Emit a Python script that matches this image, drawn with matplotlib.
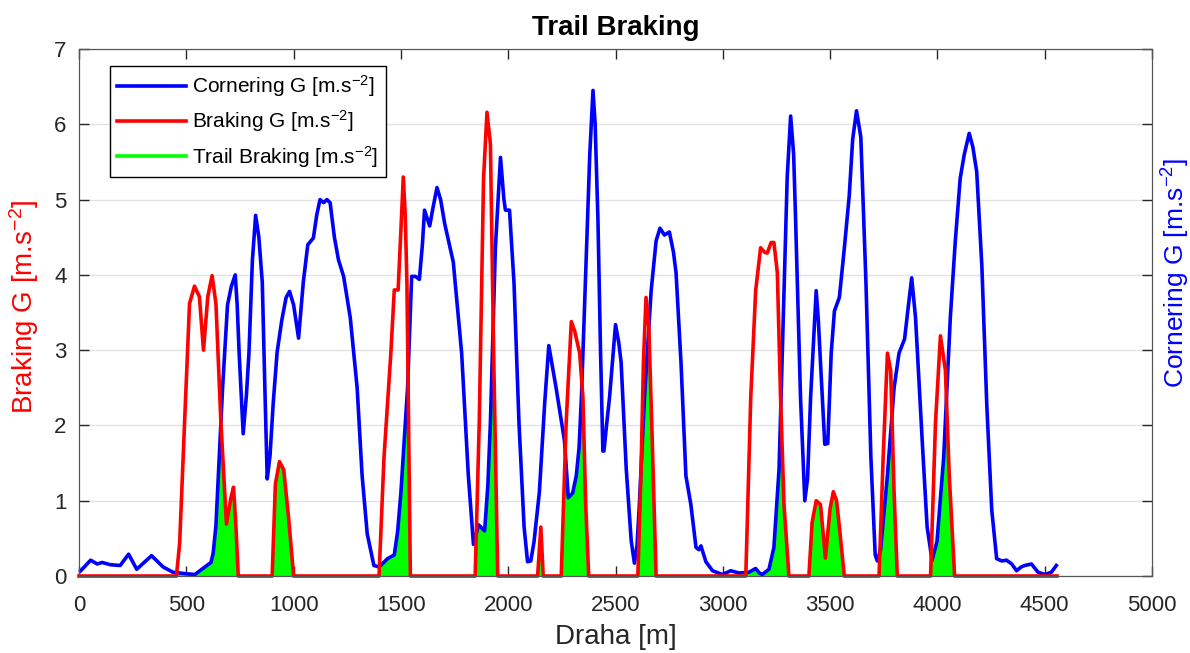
import numpy as np
import matplotlib
matplotlib.use("Agg")
import matplotlib.pyplot as plt
from matplotlib.patches import Polygon

plt.rcParams['font.family'] = ['Liberation Sans', 'DejaVu Sans']
plt.rcParams['mathtext.fontset'] = 'custom'
plt.rcParams['mathtext.rm'] = 'Liberation Sans'
plt.rcParams['mathtext.it'] = 'Liberation Sans:italic'

# cornering G (blue)
corner_x = [8, 54, 85, 108, 146, 192, 231, 269, 338, 392, 438, 500, 540, 577, 615, 625, 638, 652, 669,
            692, 710, 728, 737, 746, 765, 780, 792, 808, 823, 838, 854, 866, 877, 890, 905, 923, 945,
            965, 981, 1000, 1023, 1045, 1066, 1092, 1108, 1123, 1140, 1155, 1170, 1190, 1209, 1233,
            1264, 1296, 1319, 1343, 1374, 1398, 1420, 1437, 1469, 1485, 1500, 1531, 1550, 1568, 1586,
            1600, 1610, 1634, 1650, 1668, 1685, 1704, 1744, 1783, 1814, 1838, 1850, 1862, 1890, 1905,
            1917, 1940, 1964, 1980, 1987, 2006, 2027, 2050, 2074, 2090, 2105, 2120, 2145, 2170, 2189,
            2205, 2223, 2245, 2262, 2280, 2300, 2317, 2330, 2341, 2364, 2380, 2395, 2405, 2418, 2430,
            2441, 2446, 2458, 2472, 2500, 2515, 2526, 2550, 2573, 2588, 2600, 2611, 2635, 2666, 2689,
            2707, 2728, 2751, 2770, 2782, 2805, 2828, 2851, 2875, 2888, 2898, 2921, 2952, 2998, 3037,
            3076, 3122, 3153, 3170, 3184, 3215, 3238, 3262, 3285, 3300, 3316, 3330, 3339, 3362, 3382,
            3395, 3409, 3435, 3445, 3455, 3475, 3489, 3505, 3520, 3543, 3566, 3589, 3605, 3623, 3643,
            3667, 3690, 3710, 3720, 3735, 3767, 3798, 3821, 3847, 3865, 3880, 3898, 3929, 3952, 3975,
            3998, 4029, 4060, 4083, 4106, 4125, 4148, 4165, 4183, 4207, 4230, 4253, 4276, 4300, 4322,
            4346, 4369, 4390, 4407, 4438, 4469, 4500, 4531, 4554]
corner_y = [0.07, 0.21, 0.16, 0.18, 0.15, 0.14, 0.29, 0.09, 0.27, 0.12, 0.05, 0.03, 0.02, 0.1, 0.18, 0.3,
            0.67, 1.5, 2.5, 3.6, 3.85, 4.0, 3.6, 2.97, 1.89, 2.4, 2.97, 4.2, 4.79, 4.5, 3.9, 2.5, 1.29,
            1.6, 2.3, 2.97, 3.4, 3.7, 3.78, 3.6, 3.16, 3.9, 4.4, 4.49, 4.8, 5.0, 4.96, 5.0, 4.96, 4.5,
            4.2, 3.98, 3.43, 2.5, 1.34, 0.56, 0.14, 0.12, 0.18, 0.23, 0.28, 0.6, 1.11, 2.5, 3.98, 3.98,
            3.94, 4.4, 4.86, 4.65, 4.9, 5.16, 5.0, 4.68, 4.17, 2.96, 1.34, 0.42, 0.55, 0.68, 0.6, 1.2,
            2.04, 4.35, 5.56, 5.0, 4.86, 4.86, 3.89, 2.04, 0.65, 0.19, 0.2, 0.45, 1.11, 2.3, 3.06, 2.8,
            2.5, 2.1, 1.8, 1.04, 1.1, 1.33, 1.7, 2.37, 4.27, 5.6, 6.45, 6.0, 4.74, 3.0, 1.66, 1.66, 2.0,
            2.37, 3.34, 3.1, 2.84, 1.42, 0.47, 0.17, 0.4, 0.95, 2.37, 3.79, 4.45, 4.62, 4.53, 4.57, 4.3,
            4.03, 2.84, 1.33, 0.95, 0.38, 0.35, 0.4, 0.19, 0.07, 0.02, 0.07, 0.04, 0.05, 0.1, 0.04,
            0.02, 0.09, 0.38, 1.42, 3.79, 5.3, 6.11, 5.6, 4.74, 2.37, 1.0, 1.3, 2.37, 3.79, 3.4, 2.84,
            1.75, 1.76, 2.96, 3.52, 3.7, 4.35, 5.05, 5.8, 6.18, 5.83, 3.89, 1.57, 0.28, 0.2, 0.35, 1.34,
            2.5, 2.96, 3.15, 3.6, 3.96, 3.43, 1.8, 0.65, 0.21, 0.46, 1.57, 3.43, 4.44, 5.28, 5.6, 5.88,
            5.7, 5.37, 4.12, 2.27, 0.88, 0.23, 0.2, 0.21, 0.16, 0.07, 0.12, 0.14, 0.16, 0.05, 0.02,
            0.05, 0.14]

# braking G (red)
brake_x = [0, 454, 469, 492, 515, 538, 561, 580, 600, 620, 638, 661, 687, 708, 720, 731, 742, 900, 915,
           934, 954, 977, 1000, 1398, 1421, 1453, 1469, 1487, 1500, 1511, 1520, 1528, 1544, 1846,
           1865, 1885, 1901, 1917, 1932, 1951, 2137, 2152, 2163, 2247, 2270, 2294, 2310, 2333, 2348,
           2361, 2375, 2604, 2619, 2630, 2642, 2655, 2670, 2689, 3107, 3130, 3153, 3176, 3195, 3207,
           3225, 3238, 3254, 3269, 3285, 3308, 3401, 3416, 3435, 3455, 3478, 3500, 3515, 3530, 3545,
           3566, 3728, 3747, 3767, 3782, 3798, 3813, 3968, 3991, 4014, 4037, 4055, 4080, 4557]
brake_y = [0, 0, 0.44, 2.05, 3.62, 3.85, 3.71, 3.0, 3.71, 3.99, 3.62, 2.05, 0.69, 1.04, 1.18, 0.67, 0,
           0, 1.22, 1.52, 1.41, 0.76, 0, 0, 1.57, 2.96, 3.8, 3.8, 4.6, 5.3, 4.8, 3.89, 0, 0, 2.04,
           5.28, 6.16, 5.74, 2.96, 0, 0, 0.65, 0, 0, 2.04, 3.38, 3.25, 2.96, 2.37, 0.95, 0, 0, 1.42,
           2.84, 3.7, 3.32, 1.9, 0, 0, 2.37, 3.79, 4.36, 4.3, 4.29, 4.43, 4.43, 4.03, 2.37, 0.95, 0,
           0, 0.71, 1.0, 0.95, 0.24, 0.9, 1.12, 1.0, 0.6, 0, 0, 1.57, 2.96, 2.73, 1.11, 0, 0, 2.04,
           3.19, 2.73, 1.34, 0, 0]

fig = plt.figure(figsize=(11.9, 6.53), dpi=100)
ax = fig.add_axes([0.0664, 0.1179, 0.9017, 0.8070])

# trail braking = area under braking that is also under cornering
trail = ax.fill_between(brake_x, 0, brake_y, color='#00ff00', lw=0, zorder=2)
clip = Polygon(np.column_stack([corner_x + [corner_x[-1], corner_x[0]], corner_y + [-0.2, -0.2]]),
               closed=True, transform=ax.transData)
trail.set_clip_path(clip)

l_corner, = ax.plot(corner_x, corner_y, color='#0000ff', lw=2.6, zorder=3, clip_on=False)
l_brake, = ax.plot(brake_x, brake_y, color='#ff0000', lw=2.6, zorder=4, clip_on=False)
l_trail, = ax.plot([], [], color='#00ff00', lw=2.6)

ax.set_xlim(0, 5000)
ax.set_ylim(0, 7)
ax.set_xticks(range(0, 5001, 500))
ax.set_yticks(range(0, 8))
ax.yaxis.grid(True, color='#e3e3e3', lw=1)
ax.set_axisbelow(True)
ax.tick_params(direction='in', length=7, width=1, colors='#262626', labelsize=16, top=True)
ax.tick_params(axis='x', pad=14)
ax.tick_params(axis='y', pad=9)
for s in ax.spines.values():
    s.set_color('#555555')

ax.set_title('Trail Braking', fontsize=20, fontweight='bold', pad=10)
ax.set_xlabel('Draha [m]', fontsize=20, color='#262626')
ax.xaxis.set_label_coords(0.5, -0.092)
ax.set_ylabel(r'Braking G [m.s$^{-2}$]', fontsize=20, color='#ff0000')
ax.yaxis.set_label_coords(-0.035, 0.51)

ax2 = ax.twinx()
ax2.set_ylim(0, 7)
ax2.set_yticks(range(0, 8))
ax2.tick_params(direction='in', length=7, width=1, colors='#262626', labelright=False)
ax2.set_ylabel(r'Cornering G [m.s$^{-2}$]', fontsize=19, color='#0000ff')
ax2.yaxis.set_label_coords(1.007, 0.575)
for s in ax2.spines.values():
    s.set_color('#555555')

ax.legend([l_corner, l_brake, l_trail],
          [r'Cornering G [m.s$^{-2}$]', r'Braking G [m.s$^{-2}$]', r'Trail Braking [m.s$^{-2}$]'],
          loc='upper left', bbox_to_anchor=(0.029, 0.968), borderaxespad=0, fontsize=15,
          frameon=True, fancybox=False, edgecolor='black', framealpha=1,
          handlelength=3.3, handletextpad=0.3, labelspacing=0.45, borderpad=0.35)

fig.savefig('out.png', dpi=100)
